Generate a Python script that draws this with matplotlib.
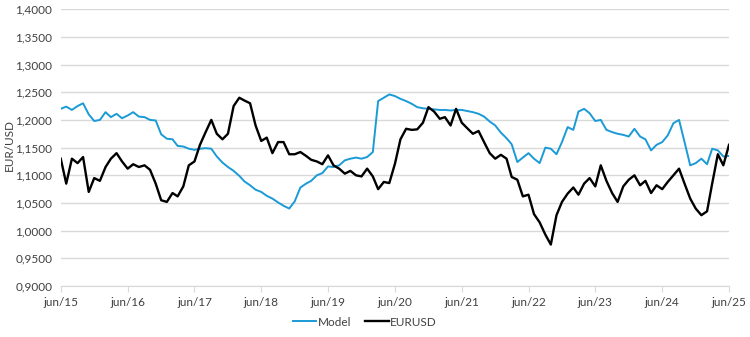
import matplotlib
matplotlib.use("Agg")
import matplotlib.pyplot as plt
import matplotlib.ticker as mticker
import pandas as pd


# monthly readings, jun/15 .. jun/25
dates = pd.date_range("2015-06-01", periods=121, freq="MS")

model = [
    1.220, 1.224, 1.218, 1.225, 1.230, 1.210, 1.198, 1.200, 1.214, 1.205,
    1.211, 1.203, 1.208, 1.214, 1.206, 1.205, 1.200, 1.199, 1.174, 1.166,
    1.165, 1.153, 1.152, 1.148, 1.146, 1.148, 1.149, 1.148, 1.134, 1.123,
    1.115, 1.108, 1.099, 1.089, 1.082, 1.074, 1.070, 1.063, 1.058, 1.051,
    1.045, 1.040, 1.053, 1.078, 1.085, 1.090, 1.100, 1.104, 1.116, 1.115,
    1.118, 1.127, 1.130, 1.132, 1.130, 1.133, 1.142, 1.234, 1.240, 1.246,
    1.243, 1.238, 1.234, 1.229, 1.223, 1.221, 1.220, 1.219, 1.218, 1.218,
    1.217, 1.218, 1.218, 1.216, 1.214, 1.211, 1.206, 1.197, 1.190, 1.177,
    1.167, 1.156, 1.124, 1.132, 1.140, 1.130, 1.122, 1.150, 1.148, 1.138,
    1.160, 1.187, 1.182, 1.215, 1.220, 1.212, 1.198, 1.200, 1.182, 1.178,
    1.175, 1.173, 1.170, 1.184, 1.170, 1.165, 1.145, 1.155, 1.160, 1.172,
    1.194, 1.200, 1.160, 1.118, 1.122, 1.130, 1.120, 1.148, 1.145, 1.134,
    1.135,
]

eurusd = [
    1.130, 1.085, 1.130, 1.122, 1.133, 1.070, 1.095, 1.090, 1.115, 1.130,
    1.140, 1.125, 1.112, 1.120, 1.115, 1.118, 1.110, 1.085, 1.055, 1.052,
    1.068, 1.062, 1.080, 1.118, 1.125, 1.155, 1.178, 1.200, 1.175, 1.165,
    1.175, 1.225, 1.240, 1.235, 1.230, 1.190, 1.162, 1.168, 1.140, 1.160,
    1.160, 1.138, 1.138, 1.142, 1.135, 1.128, 1.125, 1.120, 1.136, 1.118,
    1.112, 1.103, 1.108, 1.100, 1.098, 1.112, 1.098, 1.075, 1.088, 1.086,
    1.121, 1.165, 1.184, 1.182, 1.183, 1.195, 1.223, 1.215, 1.202, 1.205,
    1.190, 1.220, 1.195, 1.185, 1.175, 1.180, 1.160, 1.140, 1.130, 1.137,
    1.130, 1.097, 1.092, 1.062, 1.065, 1.030, 1.015, 0.993, 0.975, 1.028,
    1.052, 1.067, 1.078, 1.065, 1.085, 1.095, 1.080, 1.118, 1.090, 1.068,
    1.052, 1.080, 1.092, 1.100, 1.082, 1.090, 1.068, 1.082, 1.075, 1.088,
    1.100, 1.112, 1.085, 1.058, 1.040, 1.028, 1.035, 1.085, 1.138, 1.118,
    1.155,
]

tick_dates = pd.date_range("2015-06-01", periods=11, freq="12MS")
tick_labels = ["jun/15", "jun/16", "jun/17", "jun/18", "jun/19", "jun/20",
               "jun/21", "jun/22", "jun/23", "jun/24", "jun/25"]

plt.rcParams["font.family"] = ["Lato", "DejaVu Sans"]

fig = plt.figure(figsize=(7.5, 3.37), dpi=100)
ax = fig.add_axes([0.081, 0.151, 0.891, 0.822])

ax.plot(dates, model, color="#1a9ad6", lw=1.4, label="Model", zorder=3)
ax.plot(dates, eurusd, color="black", lw=1.7, label="EURUSD", zorder=4)

ax.set_ylim(0.9, 1.4)
ax.set_yticks([0.9 + 0.05 * i for i in range(11)])
ax.yaxis.set_major_formatter(mticker.FuncFormatter(lambda v, p: f"{v:.4f}".replace(".", ",")))
ax.set_xlim(dates[0], dates[-1])
ax.set_xticks(tick_dates)
ax.set_xticklabels(tick_labels)

ax.grid(axis="y", color="#d9d9d9", lw=1)
ax.set_axisbelow(True)
for s in ["top", "right", "left"]:
    ax.spines[s].set_visible(False)
ax.spines["bottom"].set_color("#d9d9d9")
ax.tick_params(axis="y", length=0, labelsize=8.5, colors="#404040", pad=6)
ax.tick_params(axis="x", length=4, color="#d9d9d9", labelsize=8.5, labelcolor="#404040", pad=4)
fig.text(0.013, 0.57, "EUR/USD", rotation=90, fontsize=8.5, color="#404040",
         ha="center", va="center")

ax.legend(loc="center", bbox_to_anchor=(0.455, -0.13), ncol=2, frameon=False,
          fontsize=8.5, handlelength=2.0, handletextpad=0.1, columnspacing=1.2,
          labelcolor="#404040")

fig.savefig("out.png", dpi=100)
